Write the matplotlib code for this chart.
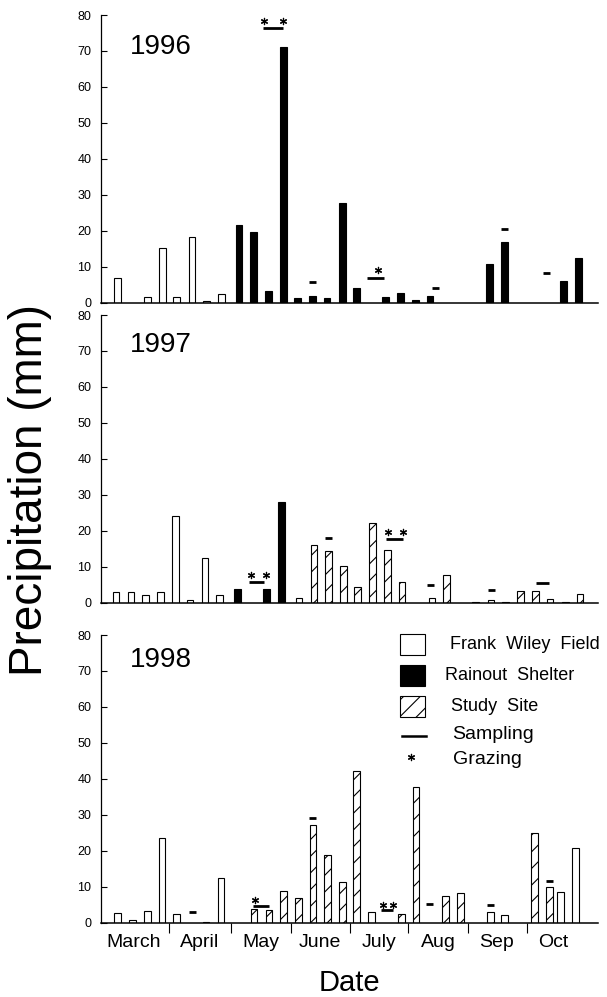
import matplotlib
matplotlib.use("Agg")
import matplotlib.pyplot as plt
from matplotlib.patches import Rectangle
from matplotlib.lines import Line2D

plt.rcParams['font.family'] = ['Liberation Sans', 'DejaVu Sans']
plt.rcParams['hatch.linewidth'] = 0.8

# ---------------- data (x = days since the start of March, approx.) ----------------
months = ["March", "April", "May", "June", "July", "Aug", "Sep", "Oct"]
month_edges = [34, 65, 95, 124.3, 153.5, 183.5, 213]
month_centers = [16.5, 49.5, 80, 109.5, 139, 168.5, 198, 226]
y_ticks = [0, 10, 20, 30, 40, 50, 60, 70, 80]
years = ["1996", "1997", "1998"]

# 1996
fwf96_x = [8.4, 23.2, 30.7, 37.9, 45.5, 52.7, 60.2]
fwf96_y = [7.0, 1.7, 15.3, 1.7, 18.3, 0.6, 2.3]
rs96_x = [69.0, 76.4, 83.7, 91.2, 98.2, 105.7, 113.0, 120.7, 127.7, 142.4, 149.9,
          157.2, 164.5, 194.4, 201.7, 231.4, 238.7]
rs96_y = [21.6, 19.7, 3.2, 71.2, 1.2, 1.9, 1.3, 27.8, 4.1, 1.6, 2.6, 0.75, 1.9,
          10.8, 17.0, 6.1, 12.3]
ss96_x = []
ss96_y = []
samp96_x0 = [103.9, 165.6, 199.9, 221.1, 81.0, 132.9]
samp96_x1 = [107.4, 169.1, 203.4, 224.6, 90.9, 141.7]
samp96_y = [5.7, 4.1, 20.5, 8.3, 76.3, 6.8]
graz96_x = [81.5, 91.2, 138.4]
graz96_y = [78.4, 78.4, 9.1]

# 1997
fwf97_x = [7.5, 15.0, 22.4, 29.9, 37.4, 44.5, 52.0, 59.4, 99.0, 165.5, 187.4,
           195.0, 202.4, 224.5, 232.2]
fwf97_y = [3.1, 2.9, 2.05, 3.1, 24.1, 0.85, 12.3, 2.05, 1.4, 1.2, 0.2, 0.85,
           0.3, 1.1, 0.3]
rs97_x = [68.2, 82.9, 90.2]
rs97_y = [3.8, 3.8, 27.9]
ss97_x = [106.5, 113.9, 121.2, 128.4, 135.7, 143.4, 150.5, 172.9, 209.9, 217.4, 239.5]
ss97_y = [16.0, 14.3, 10.3, 4.45, 22.3, 14.6, 5.7, 7.7, 3.3, 3.15, 2.4]
samp97_x0 = [112.2, 163.0, 193.7, 217.5, 74.2, 142.4]
samp97_x1 = [115.7, 166.5, 197.2, 224.2, 81.7, 151.2]
samp97_y = [17.9, 4.8, 3.5, 5.4, 5.8, 17.6]
graz97_x = [74.9, 82.4, 143.4, 151.2]
graz97_y = [7.7, 7.7, 19.7, 19.7]

# 1998
fwf98_x = [8.4, 15.7, 23.2, 30.5, 37.9, 52.5, 60.0, 135.4, 229.7, 237.2]
fwf98_y = [2.8, 0.75, 3.25, 23.5, 2.5, 0.3, 12.4, 2.9, 8.6, 20.9]
rs98_x = []
rs98_y = []
ss98_x = [76.5, 84.0, 91.2, 98.7, 106.0, 113.4, 120.7, 127.9, 150.2, 157.5, 172.4,
          179.7, 194.7, 201.9, 216.7, 224.2]
ss98_y = [3.7, 3.4, 8.7, 6.9, 27.3, 18.9, 11.2, 42.1, 2.3, 37.8, 7.3, 8.3, 2.9,
          2.2, 25.0, 9.9]
samp98_x0 = [43.9, 104.2, 162.7, 192.9, 222.4, 76.2, 139.9]
samp98_x1 = [47.4, 107.7, 166.2, 196.4, 225.9, 84.0, 146.2]
samp98_y = [2.9, 29.2, 5.1, 4.8, 11.5, 4.6, 3.6]
graz98_x = [77.2, 140.9, 145.9]
graz98_y = [6.3, 5.0, 5.0]

legend_labels = ["Frank  Wiley  Field", "Rainout  Shelter", "Study  Site", "Sampling", "Grazing"]

# ---------------- figure ----------------
fig = plt.figure(figsize=(6.07, 9.97), dpi=100)
L, W = 101 / 607, 497 / 607
H = 287.7 / 997
bottoms = [1 - 302.7 / 997, 1 - 602.7 / 997, 1 - 922.7 / 997]
year_label_y = [0.889, 0.896, 0.913]

series = [
    (fwf96_x, fwf96_y, rs96_x, rs96_y, ss96_x, ss96_y, samp96_x0, samp96_x1, samp96_y, graz96_x, graz96_y),
    (fwf97_x, fwf97_y, rs97_x, rs97_y, ss97_x, ss97_y, samp97_x0, samp97_x1, samp97_y, graz97_x, graz97_y),
    (fwf98_x, fwf98_y, rs98_x, rs98_y, ss98_x, ss98_y, samp98_x0, samp98_x1, samp98_y, graz98_x, graz98_y),
]

bw = 3.35
axes = []
for i, (fx, fy, rx, ry, sx, sy, s0, s1, syy, gx, gy) in enumerate(series):
    ax = fig.add_axes([L, bottoms[i], W, H])
    axes.append(ax)
    ax.bar(fx, fy, width=bw, facecolor='white', edgecolor='black', linewidth=0.8)
    ax.bar(rx, ry, width=bw, facecolor='black', edgecolor='black', linewidth=0.8)
    ax.bar(sx, sy, width=bw, facecolor='white', edgecolor='black', linewidth=0.8, hatch='//')
    ax.hlines(syy, s0, s1, colors='black', linewidth=2.0)
    ax.scatter(gx, gy, marker=(6, 2, 0), s=20, color='black', linewidths=0.9)
    ax.set_xlim(0, 248.5)
    ax.set_ylim(0, 80)
    ax.set_yticks(y_ticks)
    ax.tick_params(axis='y', direction='in', length=4.5, width=0.8, labelsize=9, pad=7)
    for s in ['top', 'right']:
        ax.spines[s].set_visible(False)
    ax.spines['left'].set_linewidth(0.9)
    ax.spines['bottom'].set_linewidth(1.1)
    ax.text(0.058, year_label_y[i], years[i], transform=ax.transAxes,
            fontsize=20, va='center', ha='left')
    if i < 2:
        ax.set_xticks([])
    else:
        ax.set_xticks(month_edges)
        ax.set_xticklabels([])
        ax.set_xticks(month_centers, minor=True)
        ax.set_xticklabels(months, minor=True, fontsize=14)
        ax.tick_params(axis='x', which='major', direction='out', length=7.5, width=0.8)
        ax.tick_params(axis='x', which='minor', length=0, pad=8)
        ax.set_xlabel("Date", fontsize=21, labelpad=13)

fig.text(30 / 607, 1 - 490 / 997, "Precipitation (mm)", rotation=90,
         fontsize=33, ha='center', va='center')

# ---------------- legend (drawn by hand in panel 3) ----------------
ax = axes[2]
tr = ax.transAxes
pw, ph = 0.0503, 0.073
rows_y = [0.9687, 0.8575, 0.7498, 0.649, 0.571]
ax.add_patch(Rectangle((0.6016, rows_y[0] - ph / 2), pw, ph, transform=tr,
                       facecolor='white', edgecolor='black', linewidth=0.8, clip_on=False))
ax.add_patch(Rectangle((0.6016, rows_y[1] - ph / 2), pw, ph, transform=tr,
                       facecolor='black', edgecolor='black', linewidth=0.8, clip_on=False))
ax.add_patch(Rectangle((0.6016, rows_y[2] - ph / 2), pw, ph, transform=tr,
                       facecolor='white', edgecolor='black', linewidth=0.8, hatch='//', clip_on=False))
ax.add_line(Line2D([0.6056, 0.6540], [rows_y[3], rows_y[3]], transform=tr,
                   color='black', linewidth=1.8, clip_on=False))
ax.scatter([0.623], [rows_y[4] + 0.005], transform=tr, marker=(6, 2, 0), s=20,
           color='black', linewidths=0.9, clip_on=False)
text_x = [0.7022, 0.6922, 0.7042, 0.7062, 0.7082]
text_fs = [13, 13, 13, 14, 14]
text_y = [0.9687, 0.8575, 0.7498, 0.655, 0.5656]
for lab, tx, ty, fs in zip(legend_labels, text_x, text_y, text_fs):
    ax.text(tx, ty, lab, transform=tr, fontsize=fs, va='center', ha='left')

fig.savefig("out.png", dpi=100)
